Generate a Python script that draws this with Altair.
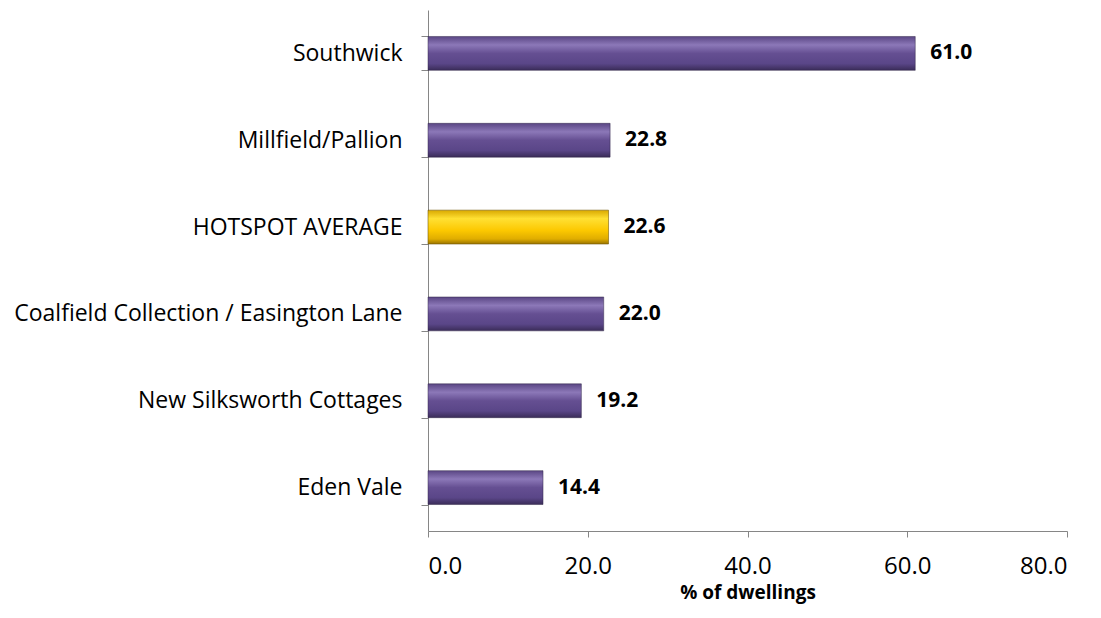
import altair as alt
import pandas as pd

categories = ["Southwick", "Millfield/Pallion", "HOTSPOT AVERAGE",
              "Coalfield Collection / Easington Lane", "New Silksworth Cottages", "Eden Vale"]
values = [61.0, 22.8, 22.6, 22.0, 19.2, 14.4]
is_average = [False, False, True, False, False, False]
x_ticks = [0, 20, 40, 60, 80]

df = pd.DataFrame({"area": categories, "pct": values, "avg": is_average})

FONT = "Open Sans"

purple = alt.Gradient(
    gradient="linear", x1=0, x2=0, y1=0, y2=1,
    stops=[alt.GradientStop(color="#5a4684", offset=0),
           alt.GradientStop(color="#8c78b8", offset=0.25),
           alt.GradientStop(color="#654f92", offset=0.5),
           alt.GradientStop(color="#5a4688", offset=0.8),
           alt.GradientStop(color="#3a2c58", offset=1)])
gold = alt.Gradient(
    gradient="linear", x1=0, x2=0, y1=0, y2=1,
    stops=[alt.GradientStop(color="#d9a800", offset=0),
           alt.GradientStop(color="#ffe033", offset=0.25),
           alt.GradientStop(color="#fcc800", offset=0.6),
           alt.GradientStop(color="#e0ad00", offset=0.85),
           alt.GradientStop(color="#9a7400", offset=1)])

y_enc = alt.Y("area:N", sort=categories, title=None,
              scale=alt.Scale(paddingInner=0.61, paddingOuter=0.305),
              axis=alt.Axis(tickBand="extent", labelFontSize=23, labelFont=FONT,
                            labelColor="#000000", labelPadding=19, tickSize=7,
                            domainColor="#868686", tickColor="#868686", labelLimit=500))
x_enc = alt.X("pct:Q", title="% of dwellings",
              scale=alt.Scale(domain=[0, 80], nice=False),
              axis=alt.Axis(values=x_ticks, format=".1f", grid=False, labelFontSize=24,
                            labelFont=FONT, labelColor="#000000", labelPadding=17,
                            tickSize=6, domainColor="#868686", tickColor="#868686",
                            titleFont=FONT, titleFontSize=19, titleFontWeight="bold",
                            titleColor="#000000", titlePadding=5))

base = alt.Chart(df)

bars_p = base.transform_filter("!datum.avg").mark_bar(
    color=purple, stroke="#2e2346", strokeWidth=0.8, strokeOpacity=0.6
).encode(x=x_enc, y=y_enc)
bars_g = base.transform_filter("datum.avg").mark_bar(
    color=gold, stroke="#6e5200", strokeWidth=0.8, strokeOpacity=0.7
).encode(x=x_enc, y=y_enc)

labels = base.mark_text(align="left", baseline="middle", dx=15, fontSize=21,
                        fontWeight="bold", font=FONT, color="#000000").encode(
    x="pct:Q", y=alt.Y("area:N", sort=categories), text=alt.Text("pct:Q", format=".1f"))

chart = alt.layer(bars_p, bars_g, labels).properties(
    width=639, height=521,
    background="#ffffff",
    autosize=alt.AutoSizeParams(type="none"),
    padding={"left": 420, "top": 2, "right": 24, "bottom": 79},
).configure_view(stroke=None)

chart.save("out.html", embed_options={"renderer": "svg", "actions": False})
